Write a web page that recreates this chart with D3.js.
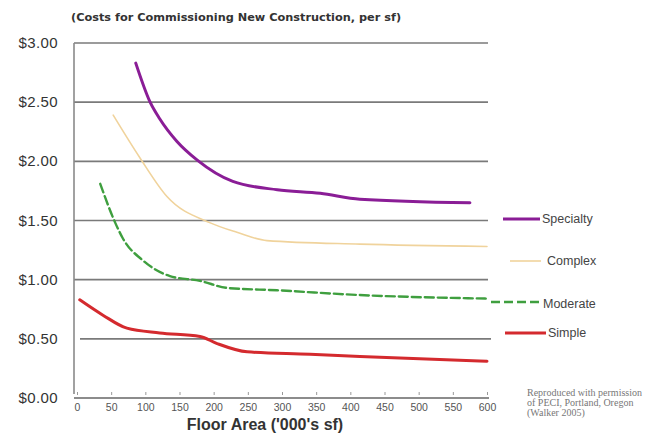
<!DOCTYPE html>
<html>
<head>
<meta charset="utf-8">
<script src="https://cdn.jsdelivr.net/npm/d3@7"></script>
<style>
  body { margin: 0; background: #fff; }
  svg { display: block; }
</style>
</head>
<body>
<script>
const width = 663;
const height = 436;

// x values ('000 sf) and cost per sf
const specialtyX = [86, 107, 121, 146, 176, 228, 293, 356, 414, 575];
const specialtyY = [2.83, 2.50, 2.36, 2.17, 2.01, 1.83, 1.76, 1.73, 1.68, 1.65];

const complexX = [53, 92, 132, 195, 234, 278, 414, 600];
const complexY = [2.39, 2.03, 1.70, 1.48, 1.40, 1.33, 1.30, 1.28];

const moderateX = [34, 56, 67, 97, 136, 180, 220, 293, 414, 600];
const moderateY = [1.81, 1.48, 1.35, 1.16, 1.03, 0.99, 0.93, 0.91, 0.87, 0.84];

const simpleX = [4, 38, 73, 121, 180, 205, 249, 341, 414, 600];
const simpleY = [0.83, 0.70, 0.59, 0.55, 0.52, 0.46, 0.39, 0.37, 0.35, 0.31];

const xTicks = [0, 50, 100, 150, 200, 250, 300, 350, 400, 450, 500, 550, 600];
const yTicks = [0, 0.5, 1, 1.5, 2, 2.5, 3];
const yLabels = ["$0.00", "$0.50", "$1.00", "$1.50", "$2.00", "$2.50", "$3.00"];

const seriesNames = ["Specialty", "Complex", "Moderate", "Simple"];

const series = [
    {name: "Specialty", xs: specialtyX, ys: specialtyY, color: "#8a1d96", w: 3, dash: null, ly: 219, lx1: 503, lx2: 540, tx: 542},
    {name: "Complex", xs: complexX, ys: complexY, color: "#f0d39c", w: 1.6, dash: null, ly: 261, lx1: 510, lx2: 541, tx: 547},
    {name: "Moderate", xs: moderateX, ys: moderateY, color: "#3f9f3f", w: 2.4, dash: "9,4", ly: 302, lx1: 491, lx2: 543, tx: 543},
    {name: "Simple", xs: simpleX, ys: simpleY, color: "#d42a2e", w: 3, dash: null, ly: 333, lx1: 505, lx2: 546, tx: 548}
];

let x = d3.scaleLinear().domain([0, 600]).range([77, 487]);
let y = d3.scaleLinear().domain([0, 3]).range([398, 43]);

let svg = d3.select("body")
    .append("svg")
    .attr("width", width)
    .attr("height", height)
    .style("font-family", "Liberation Sans, Arial, sans-serif");

// title
svg.append("text")
    .attr("x", 71)
    .attr("y", 21)
    .attr("font-family", "DejaVu Sans, sans-serif")
    .attr("font-size", 11.3)
    .attr("font-weight", "bold")
    .attr("fill", "#333")
    .text("(Costs for Commissioning  New Construction, per sf)");

// gridlines
svg.append("g")
    .selectAll("line")
    .data(yTicks.filter((d)=>d > 0))
    .enter()
    .append("line")
    .attr("x1", (d)=>d === 0.5 ? 80 : 74)
    .attr("x2", (d)=>d === 0.5 ? 491 : 488)
    .attr("y1", (d)=>y(d))
    .attr("y2", (d)=>y(d))
    .attr("stroke", "#7a7a7a")
    .attr("stroke-width", 1.6);

// y axis labels
svg.append("g")
    .selectAll("text")
    .data(yTicks)
    .enter()
    .append("text")
    .attr("x", 58)
    .attr("y", (d)=>y(d) + 5)
    .attr("text-anchor", "end")
    .attr("font-size", 15)
    .attr("letter-spacing", 0.4)
    .attr("fill", "#333")
    .text((d, i)=>yLabels[i]);

// left axis line
svg.append("line")
    .attr("x1", 74).attr("x2", 74)
    .attr("y1", y(3)).attr("y2", y(0) - 4)
    .attr("stroke", "#8a8a8a")
    .attr("stroke-width", 1.6);

// x axis
let xAxis = svg.append("g")
    .attr("transform", "translate(0," + y(0) + ")")
    .call(d3.axisBottom(x).tickValues(xTicks).tickSize(0).tickPadding(6).tickFormat(d3.format("d")));
xAxis.select(".domain")
    .attr("d", "M74,0H489")
    .attr("stroke", "#666")
    .attr("stroke-width", 1.6);
xAxis.selectAll(".tick text")
    .attr("font-size", 10.5)
    .attr("fill", "#555")
    .attr("font-family", "Liberation Sans, Arial, sans-serif");
xAxis.selectAll(".tick")
    .append("line")
    .attr("y1", -6).attr("y2", -3)
    .attr("stroke", "#999");

svg.append("text")
    .attr("x", 265)
    .attr("y", 430)
    .attr("text-anchor", "middle")
    .attr("font-size", 16)
    .attr("font-weight", "bold")
    .attr("fill", "#333")
    .text("Floor Area ('000's sf)");

// curves
let line = d3.line()
    .x((d)=>x(d[0]))
    .y((d)=>y(d[1]))
    .curve(d3.curveMonotoneX);

svg.append("g")
    .selectAll("path")
    .data(series)
    .enter()
    .append("path")
    .attr("d", (s)=>line(s.xs.map((v, i)=>[v, s.ys[i]])))
    .attr("fill", "none")
    .attr("stroke", (s)=>s.color)
    .attr("stroke-width", (s)=>s.w)
    .attr("stroke-dasharray", (s)=>s.dash)
    .attr("stroke-linecap", "round");

// legend
let legend = svg.append("g");
legend.selectAll("line")
    .data(series)
    .enter()
    .append("line")
    .attr("x1", (s)=>s.lx1)
    .attr("x2", (s)=>s.lx2)
    .attr("y1", (s)=>s.ly)
    .attr("y2", (s)=>s.ly)
    .attr("stroke", (s)=>s.color)
    .attr("stroke-width", (s)=>s.w)
    .attr("stroke-dasharray", (s)=>s.dash);
legend.selectAll("text")
    .data(series)
    .enter()
    .append("text")
    .attr("x", (s)=>s.tx)
    .attr("y", (s)=>s.name === "Moderate" ? s.ly + 6 : s.ly + 4)
    .attr("font-size", 12.5)
    .attr("fill", "#444")
    .text((s, i)=>seriesNames[i]);

// footnote
svg.append("text")
    .attr("font-family", "Liberation Serif, serif")
    .attr("font-size", 10)
    .attr("fill", "#777")
    .selectAll("tspan")
    .data(["Reproduced with permission", "of PECI, Portland, Oregon", "(Walker 2005)"])
    .enter()
    .append("tspan")
    .attr("x", 527)
    .attr("y", (d, i)=>396 + i * 10)
    .text((d)=>d);
</script>
</body>
</html>
